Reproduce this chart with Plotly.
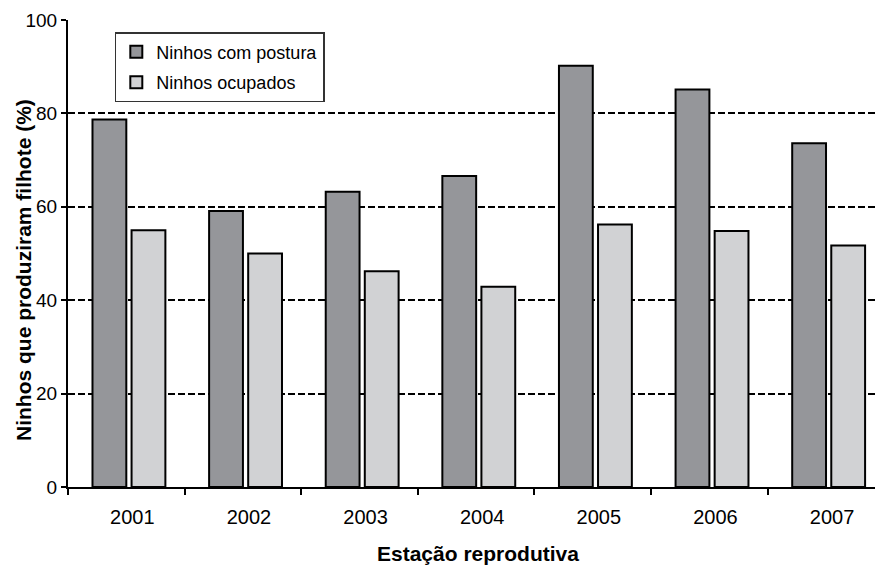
import plotly.graph_objects as go

years = ["2001", "2002", "2003", "2004", "2005", "2006", "2007"]
com_postura = [78.7, 59.1, 63.2, 66.6, 90.2, 85.1, 73.6]
ocupados = [55.0, 50.0, 46.2, 42.9, 56.2, 54.8, 51.7]

font_family = "Arial, Liberation Sans, sans-serif"

fig = go.Figure()

fig.add_trace(go.Bar(
    x=years, y=com_postura, name="Ninhos com postura",
    legendgroup="a", width=0.29, offset=-0.29,
    marker=dict(color="#95969a", line=dict(color="black", width=2))))

fig.add_trace(go.Bar(
    x=years, y=ocupados, name="Ninhos ocupados",
    legendgroup="b", width=0.29, offset=0.045,
    marker=dict(color="#d1d2d4", line=dict(color="black", width=2))))

fig.update_layout(
    width=875, height=567,
    margin=dict(l=68, r=0, t=20, b=80),
    plot_bgcolor="white", paper_bgcolor="white",
    barmode="overlay",
    font=dict(family=font_family, size=19, color="black"),
    legend=dict(
        x=0.058, y=0.974, xanchor="left", yanchor="top",
        bordercolor="#333333", borderwidth=1.5,
        bgcolor="white", traceorder="grouped", tracegroupgap=4,
        font=dict(size=18)),
    xaxis=dict(
        type="category", range=[-0.5, 6.42], autorange=False,
        showline=True, linecolor="black", linewidth=2,
        ticks="outside", ticklen=6, tickcolor="black", tickwidth=2,
        tickson="boundaries", ticklabelshift=6, ticklabelstandoff=11,
        tickfont=dict(size=20),
        showgrid=False),
    yaxis=dict(
        range=[0, 100], autorange=False, dtick=20,
        showline=True, linecolor="black", linewidth=2,
        ticks="outside", ticklen=5, tickcolor="black", tickwidth=2,
        showgrid=True, gridcolor="black", gridwidth=1.5, griddash="7px,3px",
        zeroline=False),
    annotations=[
        dict(text="<b>Estação reprodutiva</b>", xref="paper", yref="paper",
             x=(478 - 68) / 807, y=-0.142, showarrow=False,
             xanchor="center", yanchor="middle", font=dict(size=21)),
        dict(text="<b>Ninhos que produziram filhote (%)</b>", xref="paper", yref="paper",
             x=-(68 - 23) / 807, y=(487 - 270) / 467, textangle=-90, showarrow=False,
             xanchor="center", yanchor="middle", font=dict(size=21)),
    ])

# drop the default page margin so the figure sits at the window's corner
fig.write_html("out.html", config={"displayModeBar": False},
               post_script="document.body.style.margin='0';")
